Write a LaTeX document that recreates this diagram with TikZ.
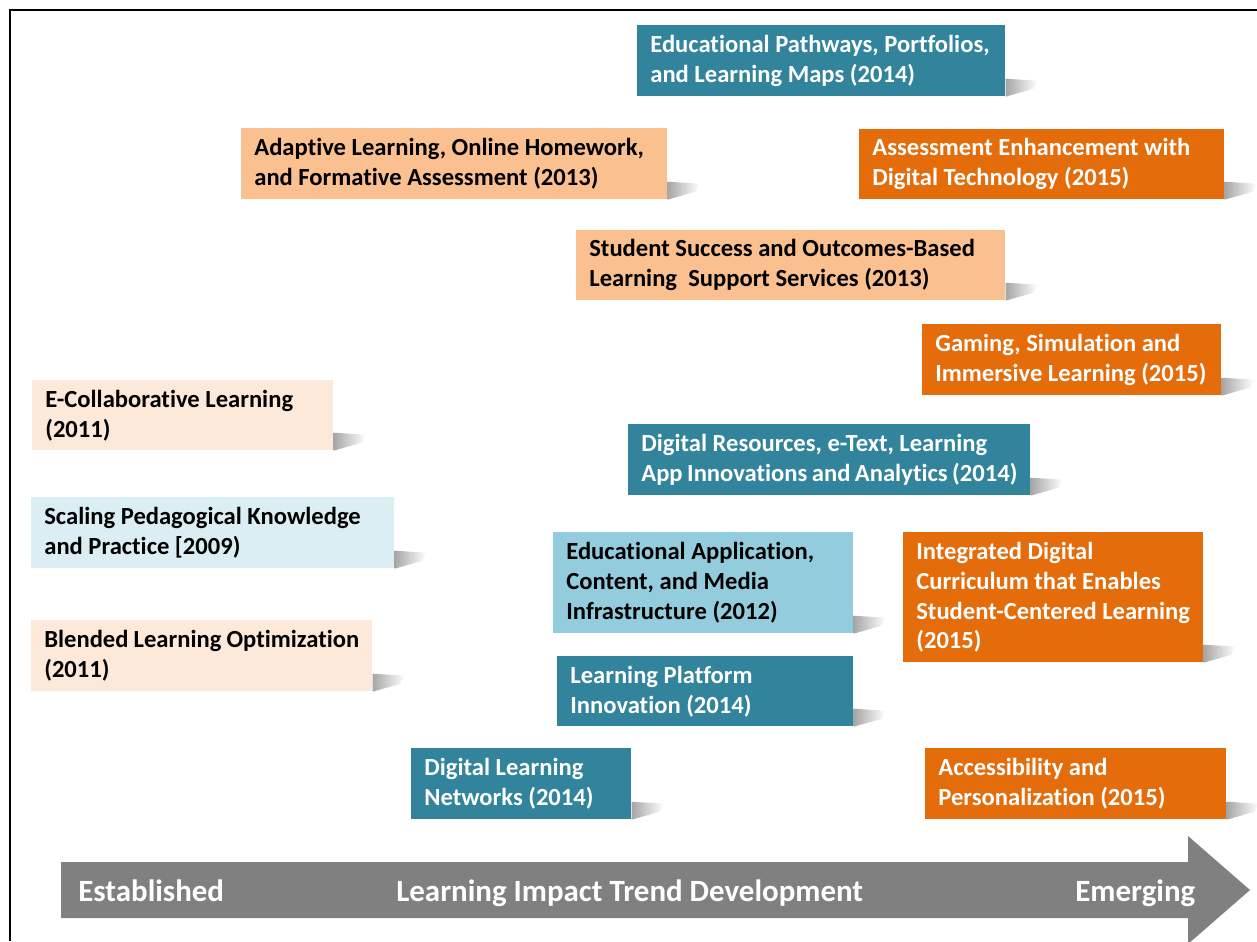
\documentclass[tikz,border=0pt]{standalone}
\usepackage{fontspec}
\setmainfont{Carlito}[RawFeature={-liga}]
\usetikzlibrary{positioning}
\hyphenpenalty=10000
\exhyphenpenalty=10000

\definecolor{tealdark}{HTML}{31849B}
\definecolor{orangelight}{HTML}{FAC090}
\definecolor{orangedark}{HTML}{E46C0A}
\definecolor{peach}{HTML}{FDE9D9}
\definecolor{bluelight}{HTML}{DAEEF3}
\definecolor{bluemid}{HTML}{93CDDD}
\definecolor{arrowgray}{HTML}{808080}

\tikzset{
  trend/.style = {rectangle, anchor=north west, inner xsep=0.26cm, inner ysep=0pt,
                  align=flush left, font=\fontsize{14}{17}\selectfont\bfseries},
  tealbox/.style   = {trend, fill=tealdark, text=white},
  orangebox/.style = {trend, fill=orangedark, text=white},
  lightbox/.style  = {trend, fill=orangelight, text=black},
  peachbox/.style  = {trend, fill=peach, text=black},
  paleblue/.style  = {trend, fill=bluelight, text=black},
  midblue/.style   = {trend, fill=bluemid, text=black},
  axislabel/.style = {anchor=base west, inner sep=0pt, text=white,
                      font=\fontsize{17.6}{20}\selectfont\bfseries}
}

\newcommand{\boxshadow}[1]{%
  \shade[left color=black!35, right color=white]
    (#1.south east) -- ++(28,-8) -- ++(4,-8) -- ++(-32,-2) -- cycle;}

\begin{document}
\begin{tikzpicture}[x=0.02cm, y=-0.02cm]
    \useasboundingbox (0,0) rectangle (1257,941);
    \clip (0,0) rectangle (1257,941);
    \draw[line width=0.9pt] (10,941) -- (10,10) -- (1257,10);

    % trends, top to bottom
    \node[tealbox, minimum width=7.36cm, minimum height=1.42cm, text width=6.84cm] (maps) at (637,25)
        {Educational Pathways, Portfolios,\\and Learning Maps (2014)};
    \node[lightbox, minimum width=8.52cm, minimum height=1.42cm, text width=8.00cm] (adaptive) at (241,128)
        {Adaptive Learning, Online Homework,\\and Formative Assessment (2013)};
    \node[orangebox, minimum width=7.30cm, minimum height=1.40cm, text width=6.78cm] (assess) at (859,129)
        {Assessment Enhancement with\\Digital Technology (2015)};
    \node[lightbox, minimum width=8.58cm, minimum height=1.40cm, text width=8.06cm] (success) at (576,230)
        {Student Success and Outcomes-Based\\Learning~ Support Services (2013)};
    \node[orangebox, minimum width=5.98cm, minimum height=1.42cm, text width=5.46cm] (gaming) at (922,324)
        {Gaming, Simulation and\\Immersive Learning (2015)};
    \node[peachbox, minimum width=6.02cm, minimum height=1.40cm, text width=5.50cm] (ecollab) at (32,380)
        {E-Collaborative Learning\\(2011)};
    \node[tealbox, minimum width=8.04cm, minimum height=1.42cm, text width=7.52cm] (resources) at (628,424)
        {Digital Resources, e-Text, Learning\\App~Innovations~and~Analytics~(2014)};
    \node[paleblue, minimum width=7.26cm, minimum height=1.42cm, text width=6.74cm] (scaling) at (31,497)
        {Scaling Pedagogical Knowledge\\and Practice [2009)};
    \node[midblue, minimum width=6.00cm, minimum height=2.02cm, text width=5.48cm] (media) at (553,532)
        {Educational Application,\\Content, and Media\\Infrastructure (2012)};
    \node[orangebox, minimum width=6.00cm, minimum height=2.60cm, text width=5.48cm] (curriculum) at (903,532)
        {Integrated Digital\\Curriculum that Enables\\Student-Centered Learning\\(2015)};
    \node[peachbox, minimum width=6.82cm, minimum height=1.42cm, text width=6.30cm] (blended) at (31,620)
        {Blended Learning Optimization\\(2011)};
    \node[tealbox, minimum width=5.92cm, minimum height=1.40cm, text width=5.40cm] (platform) at (557,656)
        {Learning Platform\\Innovation (2014)};
    \node[tealbox, minimum width=4.40cm, minimum height=1.42cm, text width=3.88cm] (networks) at (411,748)
        {Digital Learning\\Networks (2014)};
    \node[orangebox, minimum width=6.02cm, minimum height=1.42cm, text width=5.50cm] (access) at (925,748)
        {Accessibility and\\Personalization (2015)};

    \foreach \n in {maps,adaptive,assess,success,gaming,ecollab,resources,
                    scaling,media,curriculum,blended,platform,networks,access}
        \boxshadow{\n};

    % development arrow
    \fill[arrowgray] (61,862) -- (1188,862) -- (1188,836) -- (1250,890)
        -- (1188,944) -- (1188,918) -- (61,918) -- cycle;
    \node[axislabel] (established) at (78,901) {Established};
    \node[axislabel] (development) at (396,901) {Learning Impact Trend Development};
    \node[axislabel] (emerging) at (1075,901) {Emerging};
\end{tikzpicture}
\end{document}
